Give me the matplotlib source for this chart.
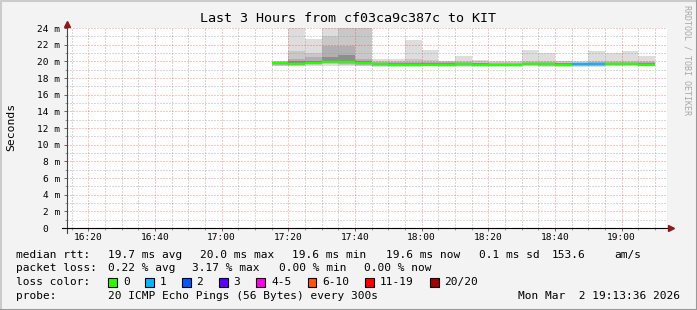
import datetime as dt
import matplotlib
matplotlib.use("Agg")
import matplotlib.pyplot as plt
import matplotlib.dates as mdates
from matplotlib.patches import Rectangle
from matplotlib.ticker import MultipleLocator, FuncFormatter

plt.rcParams['font.family'] = ['DejaVu Sans Mono']

# 5 minute steps, first one 17:15
start = dt.datetime(2026, 3, 2, 17, 15)
times = [start + dt.timedelta(minutes=5 * i) for i in range(23)]

# median rtt in ms
med = [19.75, 19.7, 19.85, 19.95, 19.95, 19.8, 19.65, 19.6, 19.6, 19.6, 19.6, 19.65,
       19.6, 19.6, 19.6, 19.7, 19.65, 19.6, 19.65, 19.65, 19.7, 19.65, 19.6]
# lost pings per step
loss = [0, 0, 0, 0, 0, 0, 0, 0, 0, 0, 0, 0, 0, 0, 0, 0, 0, 0, 1, 1, 0, 0, 0]

# smoke bands (ms), outer to inner
hi1 = [20.1, 25, 22.7, 25, 25, 25, 20.25, 20.3, 22.6, 21.4, 20.1, 20.7,
       20.2, 20.0, 20.0, 21.4, 21.0, 20.1, 20.1, 21.2, 20.95, 21.3, 20.7]
hi2 = [20.0, 21.3, 21.0, 23.1, 25, 25, 20.1, 20.1, 20.3, 20.2, 20.0, 20.1,
       20.0, 19.9, 19.9, 20.1, 20.1, 20.0, 19.95, 20.0, 20.0, 20.1, 20.1]
hi3 = [19.95, 20.3, 20.5, 21.8, 21.8, 20.3, 19.95, 19.9, 19.95, 19.95, 19.9, 19.9,
       19.85, 19.8, 19.8, 19.95, 19.9, 19.85, 19.85, 19.9, 19.9, 19.95, 19.9]
hi4 = [19.85, 20.0, 20.1, 20.5, 20.8, 20.1, 19.8, 19.75, 19.8, 19.8, 19.75, 19.75,
       19.75, 19.7, 19.7, 19.85, 19.8, 19.75, 19.75, 19.8, 19.8, 19.85, 19.85]
lo4 = [19.65, 19.6, 19.75, 19.85, 19.85, 19.7, 19.55, 19.5, 19.5, 19.5, 19.5, 19.55,
       19.5, 19.5, 19.5, 19.6, 19.55, 19.5, 19.55, 19.55, 19.6, 19.6, 19.5]
lo3 = [19.6, 19.55, 19.7, 19.75, 19.7, 19.6, 19.5, 19.45, 19.5, 19.5, 19.5, 19.5,
       19.45, 19.5, 19.5, 19.55, 19.5, 19.45, 19.5, 19.5, 19.55, 19.55, 19.5]
lo2 = [19.5, 19.5, 19.6, 19.65, 19.6, 19.5, 19.45, 19.4, 19.45, 19.45, 19.45, 19.4,
       19.4, 19.45, 19.45, 19.5, 19.45, 19.4, 19.45, 19.45, 19.5, 19.5, 19.45]
lo1 = [19.4, 19.4, 19.5, 19.5, 19.4, 19.4, 19.35, 19.3, 19.35, 19.4, 19.35, 19.3,
       19.3, 19.35, 19.35, 19.4, 19.35, 19.3, 19.35, 19.35, 19.4, 19.4, 19.4]

loss_labels = ['0', '1', '2', '3', '4-5', '6-10', '11-19', '20/20']
loss_colors = ['#26ff00', '#00b8ff', '#0059ff', '#5e00ff', '#ff00e5', '#ff5500', '#ff0000', '#a10000']

W, H = 697, 310
def fx(x):
    return x / W
def fy(y):
    return 1 - y / H

fig = plt.figure(figsize=(W / 100, H / 100), dpi=100, facecolor='#f3f3f3')
ax = fig.add_axes([fx(67), fy(228), 600 / W, 200 / H], facecolor='white')

width = 5 / 1440
x = mdates.date2num(times)
bands = [(lo1, hi1, '#dddddd'), (lo2, hi2, '#c8c8c8'), (lo3, hi3, '#b0b0b0'), (lo4, hi4, '#8e8e8e')]
for lo, hi, c in bands:
    ax.bar(x, [h - l for h, l in zip(hi, lo)], bottom=lo, width=width, align='edge',
           color=c, linewidth=0, zorder=1)

ax.hlines(med, x, x + width, colors=[loss_colors[n] for n in loss], lw=1.6, zorder=3)

ax.set_xlim(dt.datetime(2026, 3, 2, 16, 13, 36), dt.datetime(2026, 3, 2, 19, 13, 36))
ax.set_ylim(0, 24)
ax.xaxis.set_major_locator(mdates.MinuteLocator(byminute=[0, 20, 40]))
ax.xaxis.set_minor_locator(mdates.MinuteLocator(byminute=range(0, 60, 5)))
ax.xaxis.set_major_formatter(mdates.DateFormatter('%H:%M'))
ax.yaxis.set_major_locator(MultipleLocator(2))
ax.yaxis.set_minor_locator(MultipleLocator(1))
ax.yaxis.set_major_formatter(FuncFormatter(lambda v, p: '0  ' if v == 0 else '%d m' % v))

ax.set_axisbelow(False)
ax.grid(which='major', color='#ff0000', alpha=0.45, lw=0.72, linestyle=(0, (1, 2)))
ax.grid(which='minor', color='#999999', alpha=0.75, lw=0.72, linestyle=(0, (1, 2)))
for s in ax.spines.values():
    s.set_visible(False)
ax.tick_params(which='major', length=2, width=0.7, color='#666666', labelsize=6.8, pad=1.5)
ax.tick_params(which='minor', length=1.5, width=0.7, color='#999999')
ax.tick_params(axis='y', which='major', pad=3)

# axis lines with arrows
ax.plot([0, 0], [-5 / 200, 1 + 3 / 200], transform=ax.transAxes, color='#444444', lw=0.8, clip_on=False, zorder=4)
ax.plot([-5 / 600, 1 + 2 / 600], [0, 0], transform=ax.transAxes, color='black', lw=0.8, clip_on=False, zorder=4)
ax.plot([0], [1 + 4 / 200], marker='^', ms=4.5, color='#8b1a1a', transform=ax.transAxes, clip_on=False, zorder=5)
ax.plot([1 + 4 / 600], [0], marker='>', ms=4.5, color='#8b1a1a', transform=ax.transAxes, clip_on=False, zorder=5)

fig.text(fx(348), fy(19), 'Last 3 Hours from cf03ca9c387c to KIT', ha='center', va='center', fontsize=9.6)
fig.text(fx(11), fy(127), 'Seconds', rotation=90, ha='center', va='center', fontsize=8.2)
fig.text(fx(687), fy(5), 'RRDTOOL / TOBI OETIKER', rotation=-90, ha='center', va='top',
         fontsize=6, color='#a8a8a8')

fs = 8.0
row1 = [(16.4, 'median rtt:'), (107.6, '19.7 ms avg'), (200, '20.0 ms max'), (292.4, '19.6 ms min'),
        (385.8, '19.6 ms now'), (479, '0.1 ms sd'), (552, '153.6'), (614, 'am/s')]
for xp, s in row1:
    fig.text(fx(xp), fy(254.7), s, ha='left', va='center', fontsize=fs)
row2 = [(16.4, 'packet loss:'), (107.6, '0.22 % avg'), (192.4, '3.17 % max'), (279, '0.00 % min'),
        (364.4, '0.00 % now')]
for xp, s in row2:
    fig.text(fx(xp), fy(268.3), s, ha='left', va='center', fontsize=fs)

fig.text(fx(16.4), fy(282.3), 'loss color:', ha='left', va='center', fontsize=fs)
box_x = [108.4, 145.3, 182, 219, 256.4, 307.6, 365.3, 430]
for bx, lab, c in zip(box_x, loss_labels, loss_colors):
    fig.patches.append(Rectangle((fx(bx), fy(286.7)), 8.5 / W, 9 / H, transform=fig.transFigure,
                                 facecolor=c, edgecolor='black', lw=0.8))
    fig.text(fx(bx + 14.6), fy(282.3), lab, ha='left', va='center', fontsize=fs)

fig.text(fx(16.4), fy(296.3), 'probe:', ha='left', va='center', fontsize=fs)
fig.text(fx(107.6), fy(296.3), '20 ICMP Echo Pings (56 Bytes) every 300s', ha='left', va='center', fontsize=fs)
fig.text(fx(680), fy(296.3), 'Mon Mar  2 19:13:36 2026', ha='right', va='center', fontsize=fs)

# 3d frame
fig.add_artist(plt.Line2D([fx(0.5), fx(0.5), fx(696.5)], [fy(309.5), fy(0.5), fy(0.5)],
                          transform=fig.transFigure, color='#cbcbcb', lw=1.5))
fig.add_artist(plt.Line2D([fx(0.5), fx(696.5), fx(696.5)], [fy(309.5), fy(309.5), fy(0.5)],
                          transform=fig.transFigure, color='#999999', lw=1.5))

fig.savefig('out.png', dpi=100, facecolor=fig.get_facecolor())
